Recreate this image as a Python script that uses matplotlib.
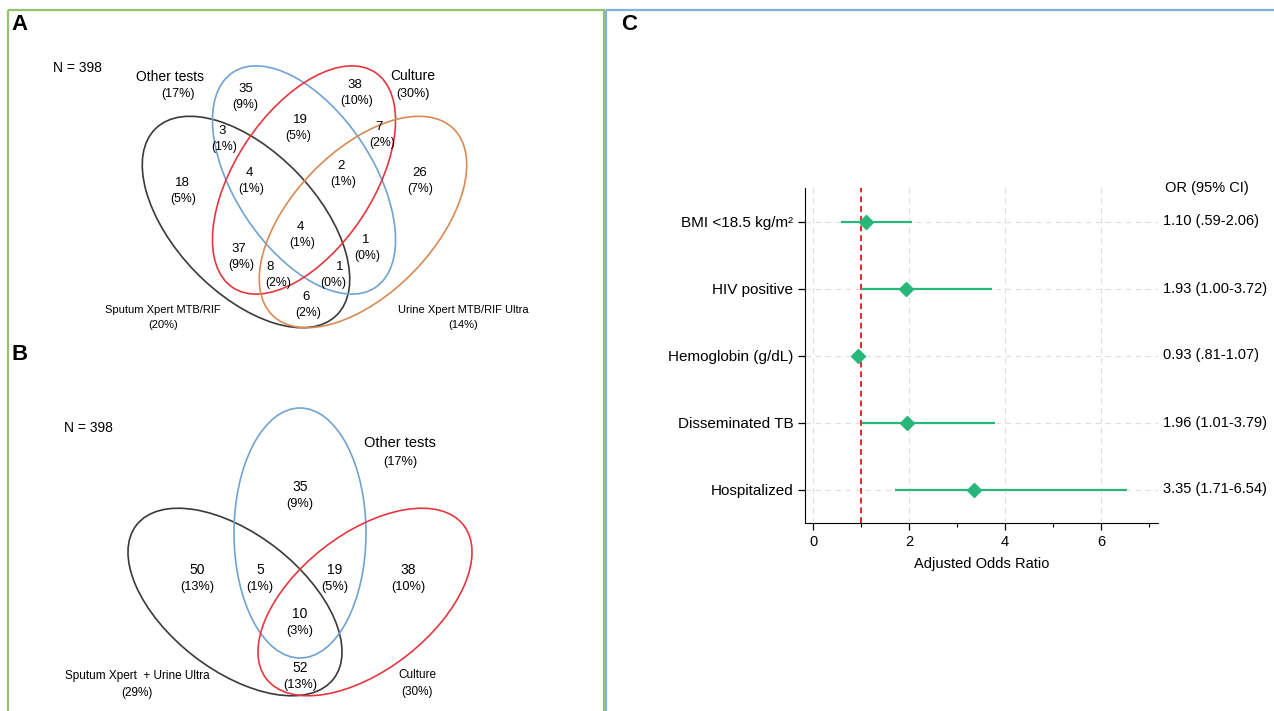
import numpy as np
import matplotlib
matplotlib.use("Agg")
import matplotlib.pyplot as plt
from matplotlib.patches import Ellipse, Rectangle

plt.rcParams['font.family'] = ['Liberation Sans', 'DejaVu Sans']

N = 398

# panel A: four-set Venn (sputum, other tests, culture, urine)
a_names = ["Sputum Xpert MTB/RIF", "Other tests", "Culture", "Urine Xpert MTB/RIF Ultra"]
a_share = [20, 17, 30, 14]
a_counts = [18, 3, 35, 4, 19, 37, 4, 38, 8, 2, 1, 6, 1, 7, 26]

# panel B: three-set Venn
b_names = ["Sputum Xpert  + Urine Ultra", "Other tests", "Culture"]
b_share = [29, 17, 30]
b_counts = [50, 5, 35, 10, 19, 52, 38]

# panel C: adjusted odds ratios
factors = ["BMI <18.5 kg/m\u00b2", "HIV positive", "Hemoglobin (g/dL)",
           "Disseminated TB", "Hospitalized"]
or_est = [1.10, 1.93, 0.93, 1.96, 3.35]
ci_low = [0.59, 1.00, 0.81, 1.01, 1.71]
ci_high = [2.06, 3.72, 1.07, 3.79, 6.54]

# ---- layout (pixels on the 1274x711 canvas) ----
BLACK, BLUE, RED, ORANGE = "#3a3a3a", "#6fa3d2", "#e8363e", "#d98a52"
GREEN = "#27b77b"

a_shapes = [((246, 222), 260, 142, 46, BLACK),
            ((304, 180), 258, 138, 56.5, BLUE),
            ((304, 180), 258, 138, -56.5, RED),
            ((363, 222), 260, 142, -46, ORANGE)]
# (x, y of count, x shift of percent line)
a_spots = [(182, 183, 1), (222, 131, 2), (246, 89, -1), (249, 173, 2), (300, 120, -2),
           (239, 249, 2), (300, 227, 2), (355, 85, 2), (270, 267, 8), (341, 166, 2),
           (366, 240, 1), (306, 297, 2), (340, 267, -7), (379, 127, 3), (420, 173, 0)]
a_label_pos = [(163, 310, 325), (170, 77, 94), (413, 76, 94), (463, 310, 325)]

b_shapes = [((235, 602), 250, 136, 38, BLACK),
            ((300, 533), 132, 250, 0, BLUE),
            ((365, 602), 250, 136, -38, RED)]
b_spots = [(197, 570), (260, 570), (300, 487), (300, 614), (335, 570), (300, 668), (408, 570)]
b_label_pos = [(137, 676, 693), (400, 443, 462), (417, 675, 692)]

fig = plt.figure(figsize=(12.74, 7.11), dpi=100, facecolor="white")
bg = fig.add_axes([0, 0, 1, 1])
bg.set_xlim(0, 1274)
bg.set_ylim(711, 0)
bg.axis("off")

# panel frames
bg.add_patch(Rectangle((8, 10), 596, 720, fill=False, ec="#93c270", lw=1.6))
bg.add_patch(Rectangle((606, 10), 700, 720, fill=False, ec="#80b2e0", lw=1.6))
for lab, x, y in [("A", 20, 25), ("B", 20, 355), ("C", 629, 25)]:
    bg.text(x, y, lab, fontsize=16, fontweight="bold", ha="center", va="center")


def pct(c):
    return "(%d%%)" % int(100 * c / N + 0.5)


# panel A
for (c, w, h, ang, col) in a_shapes:
    bg.add_patch(Ellipse(c, w, h, angle=ang, fill=False, ec=col, lw=1.2))
for cnt, (x, y, dx) in zip(a_counts, a_spots):
    bg.text(x, y, str(cnt), fontsize=9.5, ha="center", va="center")
    bg.text(x + dx, y + 16, pct(cnt), fontsize=8.8, ha="center", va="center")
for i, (name, sh) in enumerate(zip(a_names, a_share)):
    x, y1, y2 = a_label_pos[i]
    top = i in (1, 2)
    fs = 10 if top else 8
    bg.text(x, y1, name, fontsize=fs, ha="center", va="center")
    bg.text(x + (8 if i == 1 else 0), y2, "(%d%%)" % sh, fontsize=9 if top else 8,
            ha="center", va="center")
bg.text(77, 68, "N = 398", fontsize=10, ha="center", va="center")

# panel B
for (c, w, h, ang, col) in b_shapes:
    bg.add_patch(Ellipse(c, w, h, angle=ang, fill=False, ec=col, lw=1.2))
for cnt, (x, y) in zip(b_counts, b_spots):
    bg.text(x, y, str(cnt), fontsize=10, ha="center", va="center")
    bg.text(x, y + 17, pct(cnt), fontsize=9.2, ha="center", va="center")
for i, (name, sh) in enumerate(zip(b_names, b_share)):
    x, y1, y2 = b_label_pos[i]
    fs = 10.5 if i == 1 else 8.5
    bg.text(x, y1, name, fontsize=fs, ha="center", va="center")
    bg.text(x, y2, "(%d%%)" % sh, fontsize=9.2 if i == 1 else 8.5, ha="center", va="center")
bg.text(88, 428, "N = 398", fontsize=10, ha="center", va="center")

# panel C: forest plot
ax = fig.add_axes([805 / 1274, 1 - 523 / 711, 353 / 1274, 335 / 711])
ax.set_facecolor("none")
ypos = np.arange(len(factors))[::-1] + 1
ax.hlines(ypos, ci_low, ci_high, color=GREEN, lw=1.6, zorder=3)
ax.plot(or_est, ypos, "D", color=GREEN, ms=7.5, zorder=4)
ax.axvline(1, color="#e8262e", ls=(0, (3, 2)), lw=1.4, zorder=2)
ax.set_xlim(-0.17, 7.19)
ax.set_ylim(0.5, 5.5)
ax.set_xticks([0, 2, 4, 6])
ax.set_xticks([1, 3, 5, 7], minor=True)
ax.set_yticks(ypos)
ax.set_yticklabels(factors)
ax.grid(True, ls=(0, (5, 4)), color="#dedede", lw=0.8, zorder=0)
ax.set_axisbelow(True)
for s in ["top", "right"]:
    ax.spines[s].set_visible(False)
ax.tick_params(axis="x", which="major", labelsize=10.5, length=5, width=0.9)
ax.tick_params(axis="y", which="major", labelsize=11, length=5, width=0.9)
ax.tick_params(axis="x", which="minor", length=3, width=0.8)
ax.set_xlabel("Adjusted Odds Ratio", fontsize=10.5, labelpad=6)


def ci_txt(v):
    s = "%.2f" % v
    return s[1:] if s.startswith("0") else s


tr = ax.get_yaxis_transform()
for yi, e, lo, hi in zip(ypos, or_est, ci_low, ci_high):
    ax.text(1.014, yi, "%.2f (%s-%s)" % (e, ci_txt(lo), ci_txt(hi)), transform=tr,
            fontsize=10.5, ha="left", va="center")
ax.text(1.02, 5.5, "OR (95% CI)", transform=tr, fontsize=10.5, ha="left", va="center")

fig.savefig("out.png", dpi=100, facecolor="white")
